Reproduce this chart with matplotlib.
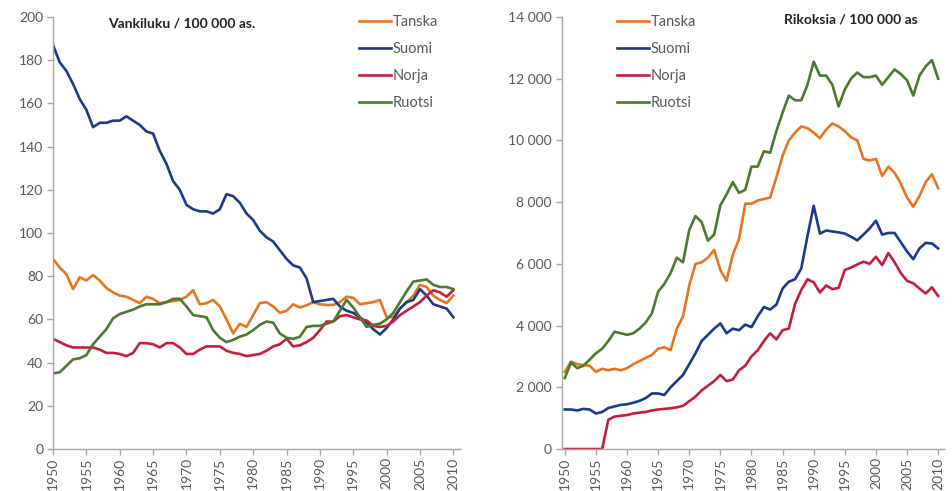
import numpy as np
import matplotlib.pyplot as plt
from matplotlib.ticker import FuncFormatter

plt.rcParams['font.family'] = ['Lato', 'DejaVu Sans']

years = np.arange(1950, 2011)

# Vankiluku / 100 000 as.
vanki_tanska = [88, 84, 81, 74, 79.5, 78, 80.5, 78, 74.5, 72.5,
                71, 70.5, 69, 67.5, 70.5, 69.5, 67.5, 68, 68.5, 69,
                70.5, 73.5, 67, 67.5, 69, 66, 60, 53.5, 58, 56.5,
                62, 67.5, 68, 66, 63, 64, 67, 65.5, 66.5, 68,
                67, 66.7, 66.7, 68, 70.5, 70, 67, 67.5, 68, 69,
                61, 61, 65, 68, 71, 76, 75, 71, 69, 67.5, 71]
vanki_suomi = [187, 179, 175, 169, 162, 157, 149, 151, 151, 152,
               152, 154, 152, 150, 147, 146, 138, 132, 124, 120,
               113, 111, 110, 110, 109, 111, 118, 117, 114, 109,
               106, 101, 98, 96, 92, 88, 85, 84, 79, 68,
               68.5, 69, 69.5, 66, 64, 63, 61, 58.5, 55.5, 53,
               56, 60, 65, 68, 69, 74, 71, 67, 66, 65, 61]
vanki_norja = [51, 49.5, 48, 47, 47, 47, 47, 46, 44.5, 44.5,
               44, 43, 44.5, 49, 49, 48.5, 47, 49, 49, 47,
               44, 44, 46, 47.5, 47.5, 47.5, 45.5, 44.5, 44, 43,
               43.5, 44, 45.5, 47.5, 48.5, 51, 47.5, 48, 49.5, 51.5,
               55, 59, 59, 61.5, 62, 61, 60, 59.5, 57, 56.5,
               57, 59, 62, 64, 66, 68, 71, 73.5, 72.5, 70.5, 73.5]
vanki_ruotsi = [35, 35.5, 38.5, 41.5, 42, 43.5, 48.5, 52, 55.5, 60.5,
                62.5, 63.5, 64.5, 66, 67, 67, 67, 68, 69.5, 69.5,
                66, 62, 61.5, 61, 55, 51.5, 49.5, 50.5, 52, 53,
                55, 57.5, 59, 58.5, 53.5, 51.5, 51, 52, 56.5, 57,
                57, 58, 59, 64, 69, 65.5, 61, 56.5, 57.5, 58,
                60, 63, 68, 73, 77.5, 78, 78.5, 76, 75, 75, 74]

# Rikoksia / 100 000 as
rikos_tanska = [2500, 2830, 2750, 2720, 2700, 2500, 2600, 2550, 2600, 2550,
                2620, 2750, 2850, 2950, 3050, 3250, 3300, 3200, 3900, 4300,
                5300, 6000, 6050, 6200, 6450, 5800, 5450, 6300, 6800, 7950,
                7950, 8050, 8100, 8150, 8800, 9500, 10000, 10250, 10450, 10400,
                10250, 10070, 10350, 10550, 10450, 10300, 10100, 10000, 9400, 9350,
                9400, 8850, 9150, 8950, 8600, 8150, 7850, 8200, 8650, 8900, 8450]
rikos_suomi = [1280, 1280, 1250, 1300, 1280, 1150, 1200, 1330, 1380, 1430,
               1450, 1500, 1560, 1650, 1800, 1800, 1750, 2000, 2200, 2400,
               2750, 3100, 3500, 3700, 3900, 4070, 3750, 3900, 3850, 4030,
               3950, 4300, 4600, 4520, 4680, 5200, 5420, 5500, 5850, 6900,
               7880, 6980, 7080, 7050, 7020, 6980, 6880, 6760, 6950, 7150,
               7400, 6950, 7000, 7000, 6700, 6400, 6150, 6500, 6680, 6660, 6500]
rikos_norja = [0, 0, 0, 0, 0, 0, 0, 950, 1050, 1080,
               1100, 1150, 1180, 1200, 1250, 1280, 1300, 1320, 1350, 1400,
               1550, 1700, 1900, 2050, 2200, 2400, 2200, 2250, 2550, 2700,
               3000, 3200, 3500, 3750, 3550, 3850, 3900, 4700, 5150, 5500,
               5400, 5070, 5300, 5180, 5220, 5800, 5880, 5980, 6070, 6000,
               6230, 5960, 6350, 6050, 5700, 5450, 5370, 5200, 5040, 5240, 4960]
rikos_ruotsi = [2300, 2800, 2620, 2700, 2900, 3100, 3250, 3500, 3800, 3750,
                3700, 3750, 3900, 4100, 4400, 5100, 5350, 5700, 6200, 6050,
                7100, 7550, 7350, 6750, 6950, 7900, 8250, 8650, 8300, 8400,
                9150, 9150, 9650, 9600, 10300, 10900, 11450, 11300, 11300, 11800,
                12550, 12100, 12100, 11800, 11100, 11650, 12000, 12200, 12050, 12050,
                12100, 11800, 12050, 12300, 12150, 11950, 11450, 12100, 12400, 12600, 12000]

names = ['Tanska', 'Suomi', 'Norja', 'Ruotsi']
colors = ['#E8741E', '#1C3A8C', '#C41E3A', '#4A7A2C']
grey = '#595959'

fig = plt.figure(figsize=(9.52, 4.91), dpi=100)
ax1 = fig.add_axes([0.0557, 0.0855, 0.4275, 0.88])
ax2 = fig.add_axes([0.590, 0.0855, 0.402, 0.88])


def style_axis(ax):
    for s in ['top', 'right']:
        ax.spines[s].set_visible(False)
    for s in ['left', 'bottom']:
        ax.spines[s].set_color('#A6A6A6')
        ax.spines[s].set_linewidth(1.0)
    ax.set_xticks(np.arange(1950, 2011, 5))
    ax.tick_params(axis='both', colors='#A6A6A6', labelcolor=grey,
                   labelsize=10, length=4, width=1)
    ax.tick_params(axis='x', labelrotation=90, pad=2)
    ax.tick_params(axis='y', pad=3)


for vals, name, c in zip([vanki_tanska, vanki_suomi, vanki_norja, vanki_ruotsi], names, colors):
    ax1.plot(years, vals, color=c, lw=1.9, label=name)
style_axis(ax1)
ax1.set_xlim(1950, 2011)
ax1.set_ylim(0, 200)
ax1.set_yticks(np.arange(0, 201, 20))
ax1.text(0.317, 0.985, 'Vankiluku / 100 000 as.', transform=ax1.transAxes,
         ha='center', va='center', fontsize=10, fontweight='bold', color='#222222')
ax1.legend(loc='upper left', bbox_to_anchor=(0.72, 1.035), frameon=False,
           handlelength=2.2, handletextpad=0.1, labelspacing=0.9, fontsize=10.5,
           labelcolor=grey)

for vals, name, c in zip([rikos_tanska, rikos_suomi, rikos_norja, rikos_ruotsi], names, colors):
    ax2.plot(years, vals, color=c, lw=1.9, label=name)
style_axis(ax2)
ax2.set_xlim(1949.5, 2011)
ax2.set_ylim(0, 14000)
ax2.set_yticks(np.arange(0, 14001, 2000))
ax2.yaxis.set_major_formatter(FuncFormatter(lambda v, p: f'{int(v):,}'.replace(',', ' ')))
ax2.text(0.93, 0.995, 'Rikoksia / 100 000 as', transform=ax2.transAxes,
         ha='right', va='center', fontsize=10, fontweight='bold', color='#222222')
ax2.legend(loc='upper left', bbox_to_anchor=(0.11, 1.035), frameon=False,
           handlelength=2.2, handletextpad=0.1, labelspacing=0.9, fontsize=10.5,
           labelcolor=grey)

fig.savefig('out.png', dpi=100)
